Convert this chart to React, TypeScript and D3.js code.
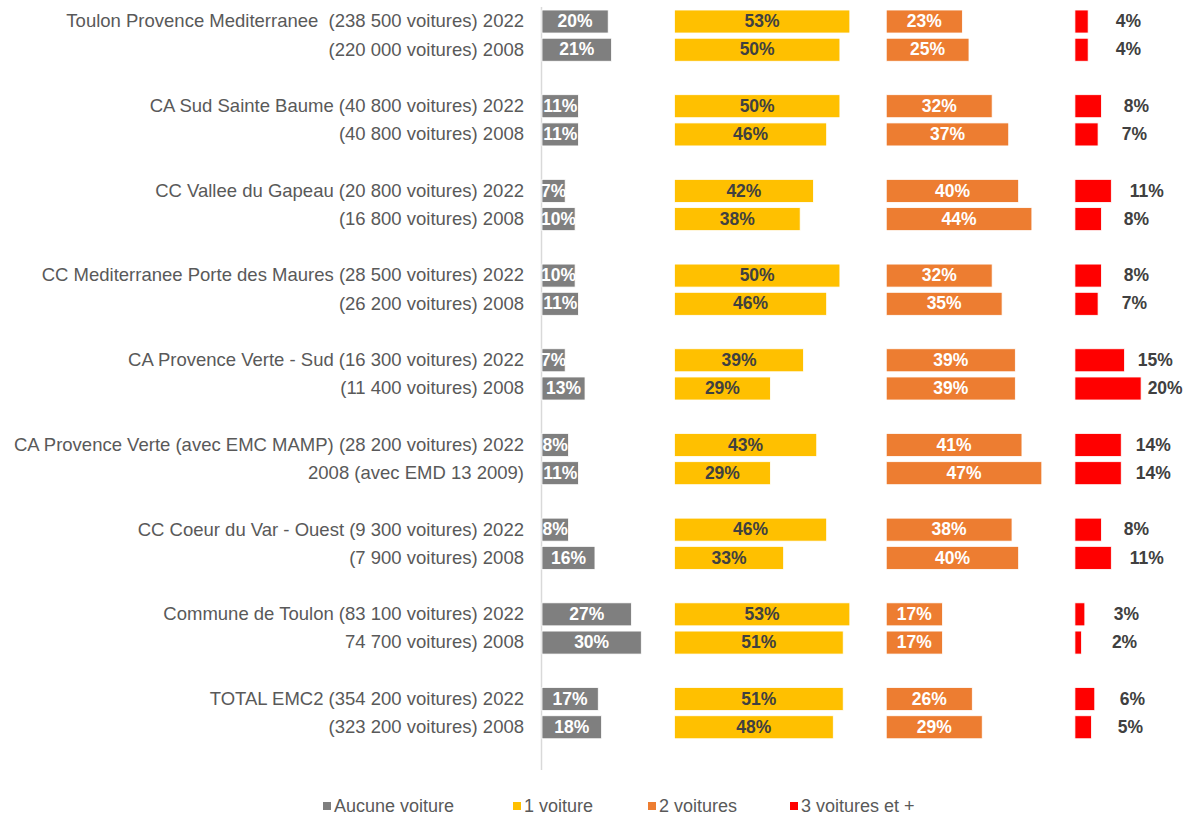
import React from 'react';
import * as d3 from 'd3';

const W = 1186;
const H = 816;

const rowLabels = [
  'Toulon Provence Mediterranee  (238 500 voitures) 2022',
  '(220 000 voitures) 2008',
  'CA Sud Sainte Baume (40 800 voitures) 2022',
  '(40 800 voitures) 2008',
  'CC Vallee du Gapeau (20 800 voitures) 2022',
  '(16 800 voitures) 2008',
  'CC Mediterranee Porte des Maures (28 500 voitures) 2022',
  '(26 200 voitures) 2008',
  'CA Provence Verte - Sud (16 300 voitures) 2022',
  '(11 400 voitures) 2008',
  'CA Provence Verte (avec EMC MAMP) (28 200 voitures) 2022',
  '2008 (avec EMD 13 2009)',
  'CC Coeur du Var - Ouest (9 300 voitures) 2022',
  '(7 900 voitures) 2008',
  'Commune de Toulon (83 100 voitures) 2022',
  '74 700 voitures) 2008',
  'TOTAL EMC2 (354 200 voitures) 2022',
  '(323 200 voitures) 2008',
];

const aucune = [20, 21, 11, 11, 7, 10, 10, 11, 7, 13, 8, 11, 8, 16, 27, 30, 17, 18];
const une = [53, 50, 50, 46, 42, 38, 50, 46, 39, 29, 43, 29, 46, 33, 53, 51, 51, 48];
const deux = [23, 25, 32, 37, 40, 44, 32, 35, 39, 39, 41, 47, 38, 40, 17, 17, 26, 29];
const trois = [4, 4, 8, 7, 11, 8, 8, 7, 15, 20, 14, 14, 8, 11, 3, 2, 6, 5];

const seriesNames = ['Aucune voiture', '1 voiture', '2 voitures', '3 voitures et +'];
const seriesValues = [aucune, une, deux, trois];
// start of each small-multiple panel, in % units of the shared scale
const panelStart = [0, 40, 104, 161];

const COLORS = ['#7f7f7f', '#ffc000', '#ed7d31', '#ff0000'];
const LABEL_FILL = ['#ffffff', '#404040', '#ffffff', '#404040'];
const FONT = '"Liberation Sans", Arial, sans-serif';

const App = () => {
  // slots: 2 rows per group + 1 gap slot
  const slots: string[] = [];
  rowLabels.forEach((_, i) => {
    slots.push(`r${i}`);
    if (i % 2 === 1) slots.push(`gap${i}`);
  });

  const yScale = d3.scaleBand<string>().domain(slots).range([7.4, 769.6]).paddingInner(0.185).paddingOuter(0.0925);
  const xScale = d3.scaleLinear().domain([0, 100]).range([542, 542 + 331]);
  const w = (v: number) => xScale(v) - xScale(0);
  const bh = yScale.bandwidth();

  const bars = seriesValues.map((vals, s) =>
    vals.map((v, i) => {
      const y = yScale(`r${i}`) ?? 0;
      const x0 = xScale(panelStart[s]);
      const bw = w(v);
      const lx = s === 3 ? x0 + 33 + 0.6 * bw : x0 + bw / 2;
      return (
        <g key={`${s}-${i}`}>
          <rect x={x0} y={y} width={bw} height={bh} fill={COLORS[s]} stroke="#fff" strokeWidth={0.8} />
          <text
            x={lx}
            y={y + bh / 2 + 1}
            textAnchor={s === 3 ? 'start' : 'middle'}
            dominantBaseline="middle"
            fontSize={17.5}
            fontWeight="bold"
            fill={LABEL_FILL[s]}
          >
            {v}%
          </text>
        </g>
      );
    })
  );

  const labels = rowLabels.map((name, i) => (
    <text
      key={i}
      x={524}
      y={(yScale(`r${i}`) ?? 0) + bh / 2 + 1}
      textAnchor="end"
      dominantBaseline="middle"
      fontSize={18.5}
      fill="#595959"
      style={{ whiteSpace: 'pre' }}
    >
      {name}
    </text>
  ));

  const legendX = [323, 513, 648, 790];
  const legend = seriesNames.map((name, s) => (
    <g key={name} transform={`translate(${legendX[s]},806)`}>
      <rect x={0} y={-4} width={8} height={8} fill={COLORS[s]} />
      <text x={11} y={1} dominantBaseline="middle" fontSize={18} fill="#595959">
        {name}
      </text>
    </g>
  ));

  return (
    <svg width={W} height={H} style={{ position: 'absolute', left: 0, top: 0, fontFamily: FONT }}>
      <rect width={W} height={H} fill="#fff" />
      <line x1={541.5} x2={541.5} y1={7} y2={770} stroke="#d9d9d9" strokeWidth={1.5} />
      {bars}
      {labels}
      {legend}
    </svg>
  );
};

export default App;
